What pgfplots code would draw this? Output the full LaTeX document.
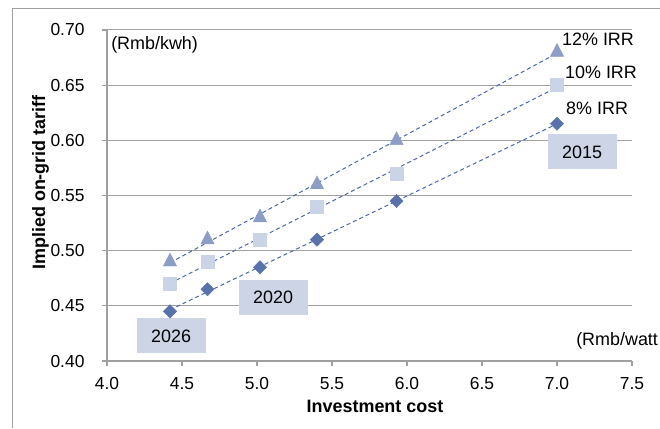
\documentclass[border=0pt]{standalone}
\usepackage{pgfplots}
\usepackage{pgfplotstable}
\pgfplotsset{compat=1.18}
\usepackage{fontspec}
\setmainfont{Liberation Sans}

\definecolor{irrA}{HTML}{5A72AB}
\definecolor{irrB}{HTML}{CBD3E6}
\definecolor{irrC}{HTML}{8C9DC6}
\definecolor{trend}{HTML}{4A66AE}
\definecolor{tagfill}{HTML}{CDD4E5}
\definecolor{axgray}{HTML}{A0A0A0}

\newcommand{\lbl}{\fontsize{18}{21}\selectfont}

% investment cost (Rmb/watt) against implied tariff (Rmb/kwh) for three IRR targets
\pgfplotstableread{
cost irr8  irr10 irr12
4.42 0.445 0.470 0.490
4.67 0.465 0.490 0.510
5.02 0.485 0.510 0.530
5.40 0.510 0.540 0.560
5.93 0.545 0.570 0.600
7.00 0.615 0.650 0.680
}\tariffs

\begin{document}
\begin{tikzpicture}[x=1bp,y=1bp]
\useasboundingbox (0,0) rectangle (660,428);
\draw[axgray, line width=1.2bp] (12.5,0) -- (12.5,419.5) -- (660,419.5);
\begin{axis}[
  at={(107bp,67bp)}, anchor=south west,
  scale only axis, width=525bp, height=331bp,
  xmin=4, xmax=7.5, ymin=0.4, ymax=0.7,
  xtick={4,4.5,5,5.5,6,6.5,7,7.5},
  ytick={0.40,0.45,0.50,0.55,0.60,0.65,0.70},
  axis x line*=bottom, axis y line*=left,
  x axis line style={-}, y axis line style={-},
  axis line style={axgray, line width=1.2bp},
  tick style={axgray, line width=1.2bp},
  tick align=outside, major tick length=5bp,
  ymajorgrids, grid style={axgray, line width=1bp},
  clip=false,
  /pgf/number format/assume math mode=true,
  ticklabel style={font=\fontsize{17.5}{20}\selectfont},
  xticklabel style={yshift=-8bp},
  yticklabel style={xshift=-14bp},
  xticklabel={\pgfmathprintnumber[fixed,fixed zerofill,precision=1]{\tick}},
  yticklabel={\pgfmathprintnumber[fixed,fixed zerofill,precision=2]{\tick}},
]
% markers
\addplot[irrC, only marks, mark=triangle*, mark size=7.7bp,
  mark options={fill=irrC, draw=irrC, yscale=1.12}]
  table[x=cost, y=irr12] {\tariffs};
\addplot[irrB, only marks, mark=square*, mark size=6.5bp,
  mark options={fill=irrB, draw=irrB}]
  table[x=cost, y=irr10] {\tariffs};
\addplot[irrA, only marks, mark=square*, mark size=4.7bp,
  mark options={fill=irrA, draw=irrA, rotate=45}]
  table[x=cost, y=irr8] {\tariffs};
% linear trend lines
\addplot[trend, line width=1bp, dash pattern=on 4bp off 3bp, no marks]
  table[x=cost, y={create col/linear regression={y=irr12}}] {\tariffs};
\addplot[trend, line width=1bp, dash pattern=on 4bp off 3bp, no marks]
  table[x=cost, y={create col/linear regression={y=irr10}}] {\tariffs};
\addplot[trend, line width=1bp, dash pattern=on 4bp off 3bp, no marks]
  table[x=cost, y={create col/linear regression={y=irr8}}] {\tariffs};
% annotations
\node[anchor=west, inner sep=0, font=\lbl] at (axis cs:7.033,0.692) {12\% IRR};
\node[anchor=west, inner sep=0, font=\lbl] at (axis cs:7.053,0.662) {10\% IRR};
\node[anchor=west, inner sep=0, font=\lbl] at (axis cs:7.060,0.629) {8\% IRR};
\node[fill=tagfill, minimum width=69bp, minimum height=35bp, inner sep=0, font=\lbl]
  at (axis cs:7.167,0.5895) {2015};
\node[fill=tagfill, minimum width=69bp, minimum height=35bp, inner sep=0, font=\lbl]
  at (axis cs:5.107,0.458) {2020};
\node[fill=tagfill, minimum width=69bp, minimum height=35bp, inner sep=0, font=\lbl]
  at (axis cs:4.427,0.4227) {2026};
\node[anchor=west, inner sep=0, font=\lbl] at (axis cs:4.027,0.6865) {(Rmb/kwh)};
\node[anchor=west, inner sep=0, font=\lbl] at (axis cs:7.127,0.418) {(Rmb/watt};
\end{axis}
\node[anchor=base, inner sep=0, font=\lbl\bfseries] at (375,16) {Investment cost};
\node[anchor=base, rotate=90, inner sep=0, font=\lbl\bfseries] at (45,245.5) {Implied on-grid tariff};
\end{tikzpicture}
\end{document}
